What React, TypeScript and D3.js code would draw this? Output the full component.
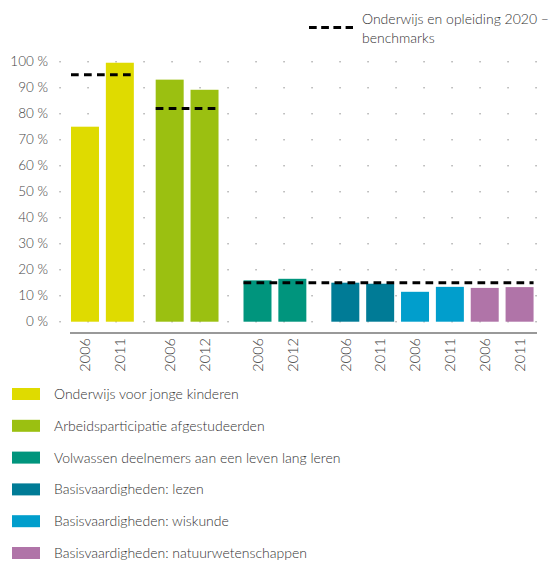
import React from "react";
import * as d3 from "d3";

// ---- data ----
const seriesNames = [
  "Onderwijs voor jonge kinderen",
  "Arbeidsparticipatie afgestudeerden",
  "Volwassen deelnemers aan een leven lang leren",
  "Basisvaardigheden: lezen",
  "Basisvaardigheden: wiskunde",
  "Basisvaardigheden: natuurwetenschappen",
];
const seriesColors = ["#dfdb00", "#9bc011", "#00957d", "#007b96", "#019ecc", "#b074a8"];
const barYears = ["2006", "2011", "2006", "2012", "2006", "2012", "2006", "2011", "2006", "2011", "2006", "2011"];
const barSeries = [0, 0, 1, 1, 2, 2, 3, 3, 4, 4, 5, 5];
const barGroup = [0, 0, 1, 1, 2, 2, 3, 3, 3, 3, 3, 3];
const barValues = [75.0, 99.6, 93.1, 89.2, 15.9, 16.5, 15.0, 14.6, 11.5, 13.4, 13.0, 13.3];
const benchmarkValues = [95, 82, 15];
const benchmarkFromBar = [0, 2, 4];
const benchmarkToBar = [1, 3, 11];
const yTicks = [0, 10, 20, 30, 40, 50, 60, 70, 80, 90, 100];
const benchmarkLabel = ["Onderwijs en opleiding 2020 –", "benchmarks"];

// ---- layout ----
const W = 557;
const H = 561;
const FONT = "Lato, 'Open Sans', sans-serif";
const groupOffset = [0, 0.43, 0.95, 1.47];
const barFrac = 0.803;

export default function App() {
  const y = d3.scaleLinear().domain([0, 100]).range([321.7, 61.7]);
  const x = d3.scaleLinear().domain([0, 1]).range([71, 105.85]);
  const slot = (i: number) => i + groupOffset[barGroup[i]];
  const bw = x(barFrac) - x(0);

  const dotXs = d3.range(18).map((k) => 60 + 28 * k);

  return (
    <div style={{ position: "absolute", left: 0, top: 0 }}>
      <svg width={W} height={H} style={{ display: "block", fontFamily: FONT, fontWeight: 300 }}>
        <rect width={W} height={H} fill="#fff" />
        {/* dotted grid */}
        <g fill="#9a9a9a">
          {yTicks.map((t) =>
            dotXs.map((dx) => (
              <rect key={t + "-" + dx} x={dx - 0.6} y={y(t) - 0.6} width={1.3} height={1.3} />
            ))
          )}
        </g>
        {/* y tick labels */}
        <g fill="#444" fontSize={13.5} textAnchor="end">
          {yTicks.map((t) => (
            <text key={t} x={48} y={y(t)} dy="0.35em">
              {t + " %"}
            </text>
          ))}
        </g>
        {/* bars */}
        <g>
          {barValues.map((v, i) => (
            <rect
              key={i}
              x={x(slot(i))}
              y={y(v)}
              width={bw}
              height={y(0) - y(v)}
              fill={seriesColors[barSeries[i]]}
            />
          ))}
        </g>
        {/* benchmarks */}
        <g stroke="#000" strokeWidth={3} strokeDasharray="7.7 5.3">
          {benchmarkValues.map((v, k) => (
            <line
              key={k}
              x1={x(slot(benchmarkFromBar[k]))}
              x2={x(slot(benchmarkToBar[k])) + bw}
              y1={y(v)}
              y2={y(v)}
            />
          ))}
        </g>
        {/* axis baseline */}
        <line x1={70} x2={537} y1={333} y2={333} stroke="#777" strokeWidth={1.5} />
        {/* x labels */}
        <g fill="#333" fontSize={14.5} textAnchor="end">
          {barYears.map((yr, i) => {
            const cx = x(slot(i)) + bw / 2;
            return (
              <text key={i} transform={`translate(${cx},338) rotate(-90)`} dy="0.36em">
                {yr}
              </text>
            );
          })}
        </g>
        {/* top legend */}
        <line x1={309} x2={353} y1={27.5} y2={27.5} stroke="#000" strokeWidth={3} strokeDasharray="7.7 4.5" />
        <g fill="#333" fontSize={14}>
          {benchmarkLabel.map((l, k) => (
            <text key={k} x={362} y={24 + k * 18.5}>
              {l}
            </text>
          ))}
        </g>
        {/* bottom legend */}
        <g>
          {seriesNames.map((n, k) => {
            const cy = 394 + k * 31.8;
            return (
              <g key={k}>
                <rect x={12} y={cy - 6} width={28} height={12} fill={seriesColors[k]} />
                <text x={54} y={cy} dy="0.35em" fill="#333" fontSize={14}>
                  {n}
                </text>
              </g>
            );
          })}
        </g>
      </svg>
    </div>
  );
}
